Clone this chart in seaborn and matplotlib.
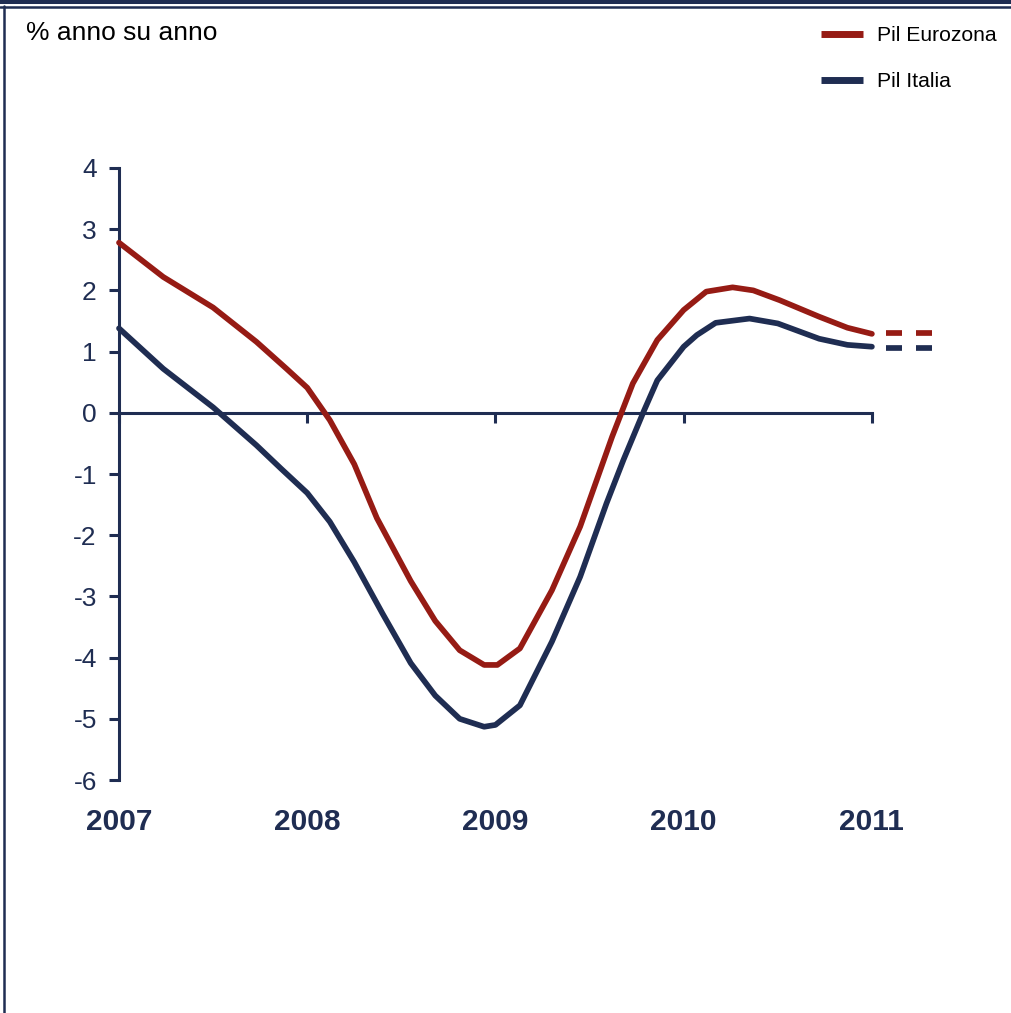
import matplotlib
matplotlib.use("Agg")
import matplotlib.pyplot as plt
from matplotlib.lines import Line2D
import seaborn as sns
import pandas as pd

# ---- data ----
eur_x = [2007.00, 2007.235, 2007.50, 2007.73, 2007.89, 2008.00, 2008.12, 2008.25, 2008.37,
         2008.55, 2008.68, 2008.81, 2008.94, 2009.01, 2009.13, 2009.30, 2009.45, 2009.62,
         2009.73, 2009.86, 2010.00, 2010.12, 2010.26, 2010.37, 2010.51, 2010.72, 2010.87, 2011.00]
eur_y = [2.78, 2.22, 1.72, 1.16, 0.72, 0.41, -0.12, -0.84, -1.72,
         -2.75, -3.40, -3.88, -4.12, -4.12, -3.85, -2.90, -1.86, -0.39,
         0.48, 1.19, 1.68, 1.98, 2.05, 2.00, 1.84, 1.57, 1.39, 1.29]

ita_x = [2007.00, 2007.235, 2007.50, 2007.73, 2007.86, 2008.00, 2008.12, 2008.25, 2008.40,
         2008.55, 2008.68, 2008.81, 2008.94, 2009.00, 2009.13, 2009.30, 2009.45, 2009.59,
         2009.68, 2009.79, 2009.86, 2010.00, 2010.07, 2010.17, 2010.35, 2010.50, 2010.72,
         2010.87, 2011.00]
ita_y = [1.38, 0.72, 0.09, -0.53, -0.91, -1.31, -1.78, -2.44, -3.28,
         -4.09, -4.62, -5.00, -5.13, -5.10, -4.78, -3.74, -2.68, -1.48,
         -0.77, 0.04, 0.53, 1.08, 1.27, 1.47, 1.54, 1.46, 1.21,
         1.11, 1.08]

fc_x = [2011.074, 2011.32]
eur_fc = [1.30, 1.30]
ita_fc = [1.06, 1.06]

years = [2007, 2008, 2009, 2010, 2011]
yticks = [4, 3, 2, 1, 0, -1, -2, -3, -4, -5, -6]
series_names = ["Pil Eurozona", "Pil Italia"]
y_label_text = "% anno su anno"

RED = "#961b14"
NAVY = "#1f2d52"

sns.set_style("white")
plt.rcParams['font.family'] = ['Liberation Sans', 'DejaVu Sans']

W, H = 1011, 1013
fig = plt.figure(figsize=(W / 100, H / 100), dpi=100)
ax = fig.add_axes([119 / W, 1 - 780 / H, 847 / W, 612 / H])

df_e = pd.DataFrame({"x": eur_x, "y": eur_y})
df_i = pd.DataFrame({"x": ita_x, "y": ita_y})
lw = 4.1
sns.lineplot(data=df_e, x="x", y="y", ax=ax, color=RED, lw=lw, clip_on=False,
             solid_capstyle="round", solid_joinstyle="round", zorder=4)
sns.lineplot(data=df_i, x="x", y="y", ax=ax, color=NAVY, lw=lw, clip_on=False,
             solid_capstyle="round", solid_joinstyle="round", zorder=4)
dash = (0, (16 * 0.72 / lw, 14 * 0.72 / lw))
ax.plot(fc_x, eur_fc, color=RED, lw=lw, ls=dash, dash_capstyle="butt",
        clip_on=False, zorder=4)
ax.plot(fc_x, ita_fc, color=NAVY, lw=lw, ls=dash, dash_capstyle="butt",
        clip_on=False, zorder=4)

ax.set_xlim(2007, 2011.5)
ax.set_ylim(-6, 4)
ax.set_xlabel("")
ax.set_ylabel("")

for s in ["top", "right"]:
    ax.spines[s].set_visible(False)
ax.spines["bottom"].set_position(("data", 0))
ax.spines["bottom"].set_bounds(2007, 2011)
ax.spines["left"].set_bounds(-6, 4)
for s in ["bottom", "left"]:
    ax.spines[s].set_color(NAVY)
    ax.spines[s].set_linewidth(2.2)
    ax.spines[s].set_zorder(3)

ax.set_yticks(yticks)
ax.set_yticklabels([str(v) for v in yticks])
ax.set_xticks(years)
ax.set_xticklabels([])
ax.tick_params(axis="y", direction="out", length=7, width=2.2, color=NAVY,
               labelcolor=NAVY, labelsize=19, pad=9, left=True)
ax.tick_params(axis="x", direction="out", length=7, width=2.2, color=NAVY, bottom=True)

tr = ax.get_xaxis_transform()
for yr in years:
    ax.text(yr, -0.0686, str(yr), transform=tr, ha="center", va="center",
            fontsize=21.5, fontweight="bold", color=NAVY)

fig.text(26 / W, 1 - 40 / H, y_label_text, fontsize=19, color="black",
         ha="left", va="baseline")

handles = [Line2D([], [], color=RED, lw=5, solid_capstyle="butt"),
           Line2D([], [], color=NAVY, lw=5, solid_capstyle="butt")]
fig.legend(handles, series_names, loc="upper left", bbox_to_anchor=(821 / W, 1 - 26 / H),
           frameon=False, fontsize=15.2, handlelength=2.0, handletextpad=0.67,
           labelspacing=1.3, borderpad=0, borderaxespad=0, labelcolor="black")

# frame lines
fig.add_artist(Line2D([0, 1], [1 - 1.8 / H] * 2, color=NAVY, lw=2.9, transform=fig.transFigure))
fig.add_artist(Line2D([0, 1], [1 - 7 / H] * 2, color=NAVY, lw=1.8, transform=fig.transFigure))
fig.add_artist(Line2D([4 / W, 4 / W], [0, 1 - 6 / H], color=NAVY, lw=1.8, transform=fig.transFigure))

fig.savefig("out.png", dpi=100)
